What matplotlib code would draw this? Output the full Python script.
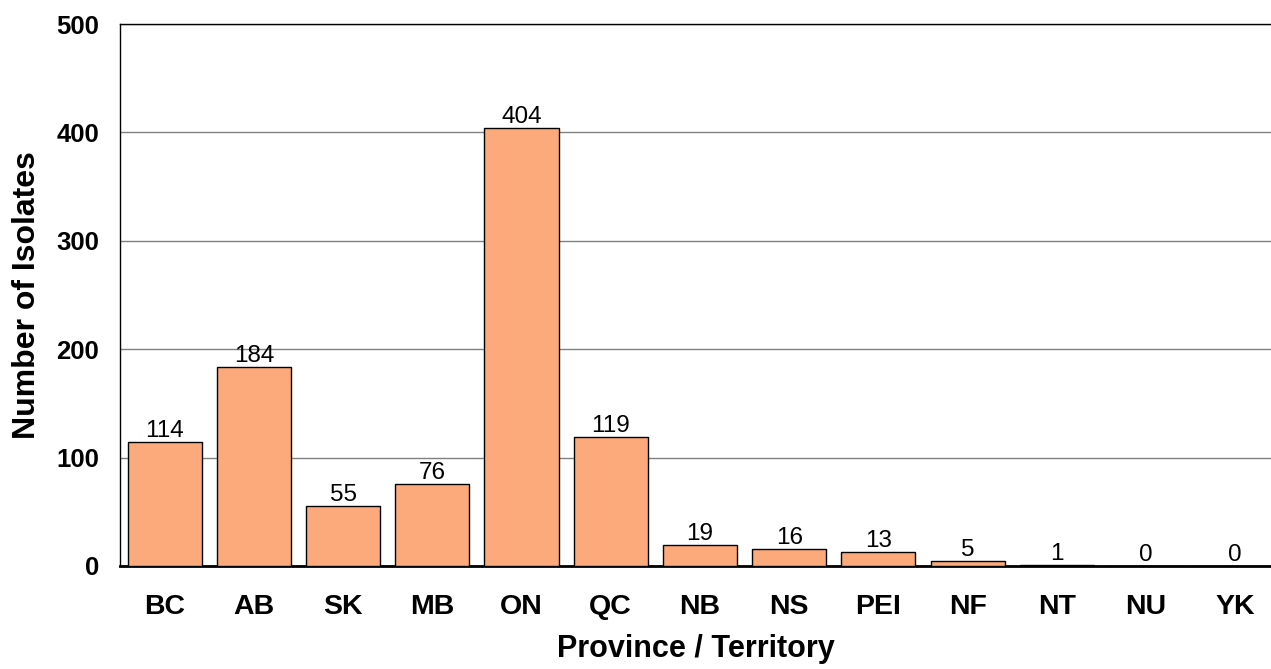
import matplotlib.pyplot as plt
import numpy as np

provinces = ['BC', 'AB', 'SK', 'MB', 'ON', 'QC', 'NB', 'NS', 'PEI', 'NF', 'NT', 'NU', 'YK']
isolates = [114, 184, 55, 76, 404, 119, 19, 16, 13, 5, 1, 0, 0]
yticks = [0, 100, 200, 300, 400, 500]

plt.rcParams['font.family'] = ['Liberation Sans', 'DejaVu Sans']

fig = plt.figure(figsize=(12.71, 6.69), dpi=100)
ax = fig.add_axes([0.0944, 0.154, 0.9056, 0.810])

x = np.arange(len(provinces))
ax.bar(x, isolates, width=0.83, color='#FCAA7C', edgecolor='black',
       linewidth=1.0, zorder=3)

# value labels above each bar
for xi, v in zip(x, isolates):
    ax.annotate(str(v), (xi, v), xytext=(0, 0), textcoords='offset points',
                ha='center', va='bottom', fontsize=17.5, zorder=4)

ax.set_xlim(-0.5, len(provinces) - 0.6)
ax.set_ylim(0, 500)
ax.set_yticks(yticks)
ax.yaxis.grid(True, color='#808080', linewidth=1.0, zorder=0)
ax.set_axisbelow(True)

ax.set_xticks(x)
ax.set_xticklabels(provinces, fontsize=20.5, fontweight='bold')
ax.set_yticklabels([str(t) for t in yticks], fontsize=18.5, fontweight='bold')
ax.tick_params(axis='both', length=0)
ax.tick_params(axis='x', pad=20)
ax.tick_params(axis='y', pad=15)

ax.spines['right'].set_visible(False)
ax.spines['left'].set_linewidth(1.0)
ax.spines['top'].set_linewidth(1.0)
ax.spines['bottom'].set_linewidth(2.0)

ax.set_xlabel('Province / Territory', fontsize=22, fontweight='bold', labelpad=10)
ax.set_ylabel('Number of Isolates', fontsize=23, fontweight='bold', labelpad=10)

fig.savefig('out.png', dpi=100)
